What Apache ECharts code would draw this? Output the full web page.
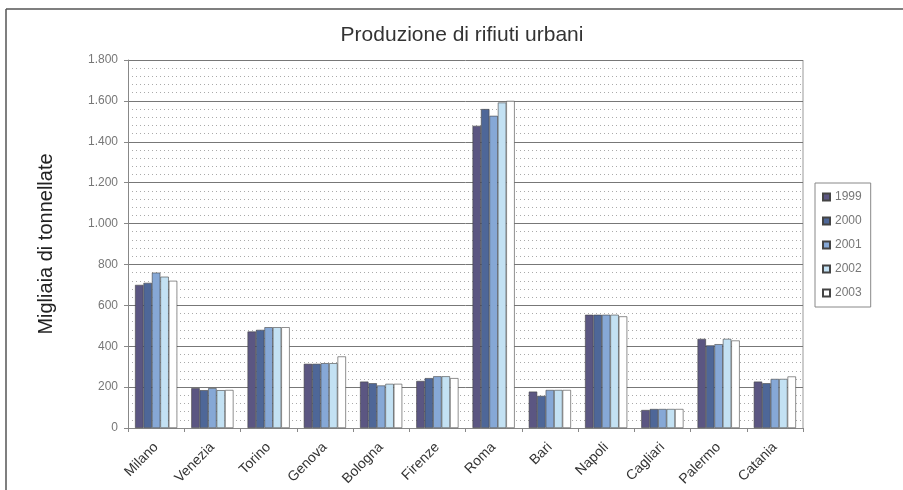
<!DOCTYPE html>
<html><head><meta charset="utf-8">
<script src="https://cdn.jsdelivr.net/npm/echarts@6/dist/echarts.min.js"></script>
<style>html,body{margin:0;padding:0;background:#fff}#c{width:903px;height:490px}</style>
</head><body><div id="c"></div>
<script>
var cities = ['Milano','Venezia','Torino','Genova','Bologna','Firenze','Roma','Bari','Napoli','Cagliari','Palermo','Catania'];
var years = ['1999','2000','2001','2002','2003'];
var v1999 = [700, 195, 472, 314, 227, 230, 1478, 178, 554, 88, 436, 227];
var v2000 = [710, 185, 480, 314, 219, 244, 1560, 157, 554, 93, 404, 219];
var v2001 = [760, 195, 493, 317, 208, 253, 1527, 186, 554, 93, 410, 240];
var v2002 = [740, 185, 493, 317, 216, 253, 1592, 186, 554, 93, 436, 240];
var v2003 = [720, 186, 493, 350, 216, 244, 1600, 186, 546, 93, 428, 252];
var seriesValues = [v1999, v2000, v2001, v2002, v2003];
var colors = ['#5b5682', '#4e6798', '#86a8d6', '#c3e1f3', '#ffffff'];

var chart = echarts.init(document.getElementById('c'));
var font = 'Liberation Sans, Arial, sans-serif';
chart.setOption({
  animation: false,
  textStyle: {fontFamily: font},
  title: {text: 'Produzione di rifiuti urbani', left: 457, top: 20, textAlign: 'center',
    textStyle: {fontSize: 21, fontWeight: 'normal', color: '#333', fontFamily: font}},
  graphic: [
    {type: 'line', shape: {x1: 6, y1: 9, x2: 903, y2: 9}, style: {stroke: '#555', lineWidth: 1.5}},
    {type: 'line', shape: {x1: 6, y1: 9, x2: 6, y2: 490}, style: {stroke: '#555', lineWidth: 1.5}},
    {type: 'line', shape: {x1: 803, y1: 60, x2: 803, y2: 428}, style: {stroke: '#999', lineWidth: 1}}
  ],
  legend: {
    orient: 'vertical', left: 815, top: 183,
    icon: 'rect',
    itemWidth: 7, itemHeight: 7, itemGap: 12,
    padding: [8, 9, 8, 7],
    borderColor: '#888', borderWidth: 1,
    textStyle: {fontSize: 12, color: '#777', fontFamily: font, lineHeight: 12},
    data: years
  },
  grid: {left: 128, right: 100, top: 60, bottom: 62},
  xAxis: {
    type: 'category', data: cities,
    axisLine: {lineStyle: {color: '#888'}},
    axisTick: {show: true, length: 4, lineStyle: {color: '#888'}},
    axisLabel: {rotate: 45, fontSize: 14, color: '#333', margin: 17, interval: 0}
  },
  yAxis: {
    type: 'value', min: 0, max: 1800, interval: 200,
    name: 'Migliaia di tonnellate', nameLocation: 'middle', nameGap: 72,
    nameTextStyle: {fontSize: 20, color: '#222', fontFamily: font},
    axisLine: {show: true, lineStyle: {color: '#888'}},
    axisTick: {show: true, length: 4, lineStyle: {color: '#888'}},
    minorTick: {show: false, splitNumber: 5},
    minorSplitLine: {show: true, lineStyle: {color: '#aaa', type: [1, 3], width: 1}},
    splitLine: {show: true, lineStyle: {color: '#777', width: 1}},
    axisLabel: {fontSize: 12, color: '#777', margin: 10,
      formatter: function (v) { return v >= 1000 ? Math.floor(v / 1000) + '.' + String(v % 1000).padStart(3, '0') : String(v); }}
  },
  series: years.map(function (y, i) {
    return {
      name: y, type: 'bar', data: seriesValues[i],
      barGap: '0%', barCategoryGap: '25%',
      itemStyle: {color: colors[i], borderColor: '#444', borderWidth: 0.6}
    };
  })
});
</script></body></html>
